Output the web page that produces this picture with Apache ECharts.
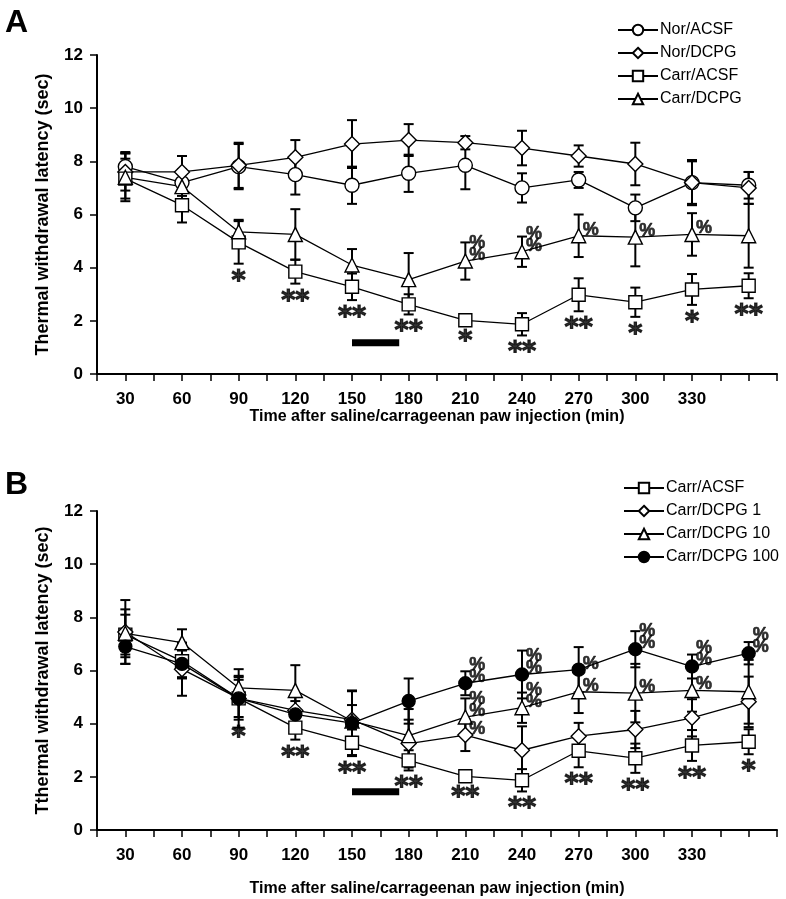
<!DOCTYPE html>
<html>
<head>
<meta charset="utf-8">
<title>Thermal withdrawal latency</title>
<script src="https://cdn.jsdelivr.net/npm/echarts@6/dist/echarts.min.js"></script>
<style>
  html, body { margin: 0; padding: 0; background: #fff; }
  #chart { width: 786px; height: 899px; }
</style>
</head>
<body>
<div id="chart"></div>
<script>
// time points (min)
const times = [30, 60, 90, 120, 150, 180, 210, 240, 270, 300, 330, 360];

// panel A
const norAcsf = [7.8, 7.2, 7.8, 7.5, 7.1, 7.55, 7.85, 7.0, 7.3, 6.25, 7.2, 7.1];
const norAcsfErr = [0.55, 0.5, 0.85, 0.75, 0.7, 0.7, 0.9, 0.55, 0.3, 0.5, 0.85, 0.5];
const norDcpg = [7.6, 7.6, 7.85, 8.15, 8.65, 8.8, 8.7, 8.5, 8.2, 7.9, 7.2, 7.0];
const norDcpgErr = [0.7, 0.6, 0.85, 0.65, 0.9, 0.6, 0.25, 0.65, 0.4, 0.8, 0.8, 0.6];
const carrAcsf = [7.35, 6.35, 4.95, 3.85, 3.28, 2.62, 2.02, 1.87, 2.98, 2.7, 3.18, 3.32];
const carrAcsfErr = [0.75, 0.65, 0.8, 0.45, 0.5, 0.38, 0.12, 0.42, 0.62, 0.55, 0.58, 0.47];
const carrDcpg = [7.4, 7.05, 5.35, 5.25, 4.1, 3.55, 4.25, 4.6, 5.2, 5.15, 5.25, 5.2];
const carrDcpgErr = [0.9, 0.5, 0.45, 0.95, 0.6, 1.0, 0.7, 0.57, 0.8, 1.1, 0.8, 1.2];

// panel B (Carr/ACSF and Carr/DCPG 10 are the same groups as in A)
const carrDcpg1 = [7.45, 6.05, 4.95, 4.5, 4.15, 3.25, 3.57, 3.0, 3.53, 3.78, 4.22, 4.82];
const carrDcpg1Err = [1.2, 1.0, 1.1, 0.5, 1.1, 0.9, 0.6, 0.9, 0.5, 0.7, 0.7, 0.95];
const carrDcpg100 = [6.9, 6.25, 4.95, 4.35, 4.02, 4.85, 5.52, 5.85, 6.03, 6.8, 6.15, 6.65];
const carrDcpg100Err = [0.65, 0.5, 0.7, 0.5, 1.2, 0.85, 0.45, 0.9, 0.85, 0.68, 0.45, 0.42];

// significance marks
const starsA = ['', '', '*', '**', '**', '**', '*', '**', '**', '*', '*', '**'];
const starsB = ['', '', '*', '**', '**', '**', '**', '**', '**', '**', '**', '*'];
const pctDcpg10 = ['', '', '', '', '', '', '%%', '%%', '%', '%', '%', ''];
const pctDcpg1 = ['', '', '', '', '', '', '%', '', '', '', '', ''];
const pctDcpg100 = ['', '', '', '', '', '', '%%', '%%', '%', '%%', '%%', '%%'];

// drug infusion bar (min) and its height on the y scale
const barTimes = [150, 175];
const barLevelA = 1.18;
const barLevelB = 1.44;

const tickLabels = [30, 60, 90, 120, 150, 180, 210, 240, 270, 300, 330];

const FONT = 'Liberation Sans, Arial, sans-serif';

const pts = vals => times.map((t, i) => [t, vals[i]]);

const lineSeries = (name, vals, symbol, size, fill, idx) => ({
  name: name,
  type: 'line',
  xAxisIndex: idx,
  yAxisIndex: idx,
  data: pts(vals),
  symbol: symbol,
  symbolSize: size,
  showAllSymbol: true,
  lineStyle: { color: '#000', width: 1.3 },
  itemStyle: { color: fill, borderColor: '#000', borderWidth: 1.4 },
  z: 3
});

const errorSeries = (vals, errs, idx) => ({
  type: 'custom',
  xAxisIndex: idx,
  yAxisIndex: idx,
  data: times.map((t, i) => [t, vals[i] - errs[i], vals[i] + errs[i]]),
  encode: { x: 0, y: [1, 2] },
  z: 2,
  silent: true,
  renderItem: (params, api) => {
    const top = api.coord([api.value(0), api.value(2)]);
    const bot = api.coord([api.value(0), api.value(1)]);
    const w = 5;
    const st = { stroke: '#000', lineWidth: 2 };
    return {
      type: 'group',
      children: [
        { type: 'line', shape: { x1: top[0], y1: top[1], x2: bot[0], y2: bot[1] }, style: st },
        { type: 'line', shape: { x1: top[0] - w, y1: top[1], x2: top[0] + w, y2: top[1] }, style: st },
        { type: 'line', shape: { x1: bot[0] - w, y1: bot[1], x2: bot[0] + w, y2: bot[1] }, style: st }
      ]
    };
  }
});

const starSeries = (vals, errs, marks, idx) => ({
  type: 'scatter',
  xAxisIndex: idx,
  yAxisIndex: idx,
  silent: true,
  symbolSize: 1,
  itemStyle: { color: 'rgba(0,0,0,0)' },
  data: times.map((t, i) => [t, vals[i] - errs[i], marks[i]]).filter(d => d[2]),
  label: {
    show: true,
    position: 'bottom',
    distance: 4,
    formatter: p => p.data[2],
    fontFamily: 'DejaVu Sans, sans-serif',
    fontWeight: 'bold',
    fontSize: 27,
    color: '#000',
    textBorderColor: '#000',
    textBorderWidth: 1.2
  },
  z: 4
});

const pctSeries = (vals, marks, idx) => ({
  type: 'scatter',
  xAxisIndex: idx,
  yAxisIndex: idx,
  silent: true,
  symbolSize: 2,
  itemStyle: { color: 'rgba(0,0,0,0)' },
  data: times.map((t, i) => [t, vals[i], marks[i]]).filter(d => d[2]),
  label: {
    show: true,
    position: [5, 1],
    align: 'left',
    verticalAlign: 'bottom',
    lineHeight: 12,
    formatter: p => p.data[2].split('').join('\n'),
    fontFamily: FONT,
    fontWeight: 'bold',
    fontSize: 18,
    color: '#000',
    textBorderColor: '#000',
    textBorderWidth: 0.6
  },
  z: 4
});

const barSeries = (level, idx) => ({
  type: 'line',
  xAxisIndex: idx,
  yAxisIndex: idx,
  data: barTimes.map(t => [t, level]),
  symbol: 'none',
  silent: true,
  lineStyle: { color: '#000', width: 7, cap: 'butt' },
  z: 2
});

const xAxisFor = (gridIndex, nameGap) => ({
  gridIndex: gridIndex,
  type: 'value',
  min: 15,
  max: 375,
  interval: 15,
  name: 'Time after saline/carrageenan paw injection (min)',
  nameLocation: 'middle',
  nameGap: nameGap,
  nameTextStyle: { fontFamily: FONT, fontWeight: 'bold', fontSize: 16, color: '#000' },
  axisLine: { lineStyle: { color: '#000', width: 2 } },
  axisTick: { show: true, length: 7, lineStyle: { color: '#000', width: 1.5 } },
  axisLabel: {
    margin: 17,
    fontFamily: FONT,
    fontWeight: 'bold',
    fontSize: 17,
    color: '#000',
    formatter: v => (tickLabels.indexOf(v) >= 0 ? String(v) : '')
  },
  splitLine: { show: false }
});

const yAxisFor = (gridIndex, name) => ({
  gridIndex: gridIndex,
  type: 'value',
  min: 0,
  max: 12,
  interval: 2,
  name: name,
  nameLocation: 'middle',
  nameGap: 45,
  nameTextStyle: { fontFamily: FONT, fontWeight: 'bold', fontSize: 18, color: '#000' },
  axisLine: { show: true, lineStyle: { color: '#000', width: 2 } },
  axisTick: { show: true, length: 7, lineStyle: { color: '#000', width: 1.5 } },
  axisLabel: { margin: 14, fontFamily: FONT, fontWeight: 'bold', fontSize: 17, color: '#000' },
  splitLine: { show: false }
});

const legendFor = (names, top, left) => ({
  orient: 'vertical',
  top: top,
  left: left,
  data: names,
  itemWidth: 40,
  itemHeight: 13,
  itemGap: 7,
  selectedMode: false,
  textStyle: { fontFamily: FONT, fontSize: 16, color: '#000', padding: [0, 0, 0, -3] }
});

const chart = echarts.init(document.getElementById('chart'));
chart.setOption({
  backgroundColor: '#fff',
  animation: false,
  title: [
    { text: 'A', left: 0, top: 2, textStyle: { fontFamily: FONT, fontWeight: 'bold', fontSize: 32, color: '#000' } },
    { text: 'B', left: 0, top: 464, textStyle: { fontFamily: FONT, fontWeight: 'bold', fontSize: 32, color: '#000' } }
  ],
  legend: [
    legendFor(['Nor/ACSF', 'Nor/DCPG', 'Carr/ACSF', 'Carr/DCPG'], 17, 612),
    legendFor(['Carr/ACSF ', 'Carr/DCPG 1', 'Carr/DCPG 10', 'Carr/DCPG 100'], 475, 618)
  ],
  grid: [
    { left: 97, right: 9, top: 55, bottom: 525 },
    { left: 97, right: 9, top: 511, bottom: 69 }
  ],
  xAxis: [xAxisFor(0, 34), xAxisFor(1, 51)],
  yAxis: [
    yAxisFor(0, 'Thermal withdrawal latency (sec)'),
    yAxisFor(1, 'Tthermal withdrawal latency (sec)')
  ],
  series: [
    // panel A
    errorSeries(norAcsf, norAcsfErr, 0),
    errorSeries(norDcpg, norDcpgErr, 0),
    errorSeries(carrAcsf, carrAcsfErr, 0),
    errorSeries(carrDcpg, carrDcpgErr, 0),
    lineSeries('Nor/ACSF', norAcsf, 'circle', 14, '#fff', 0),
    lineSeries('Nor/DCPG', norDcpg, 'diamond', 15, '#fff', 0),
    lineSeries('Carr/ACSF', carrAcsf, 'rect', 13, '#fff', 0),
    lineSeries('Carr/DCPG', carrDcpg, 'triangle', 14, '#fff', 0),
    starSeries(carrAcsf, carrAcsfErr, starsA, 0),
    pctSeries(carrDcpg, pctDcpg10, 0),
    barSeries(barLevelA, 0),
    // panel B
    errorSeries(carrAcsf, carrAcsfErr, 1),
    errorSeries(carrDcpg1, carrDcpg1Err, 1),
    errorSeries(carrDcpg, carrDcpgErr, 1),
    errorSeries(carrDcpg100, carrDcpg100Err, 1),
    lineSeries('Carr/ACSF ', carrAcsf, 'rect', 13, '#fff', 1),
    lineSeries('Carr/DCPG 1', carrDcpg1, 'diamond', 15, '#fff', 1),
    lineSeries('Carr/DCPG 10', carrDcpg, 'triangle', 14, '#fff', 1),
    lineSeries('Carr/DCPG 100', carrDcpg100, 'circle', 13, '#000', 1),
    starSeries(carrAcsf, carrAcsfErr, starsB, 1),
    pctSeries(carrDcpg, pctDcpg10, 1),
    pctSeries(carrDcpg1, pctDcpg1, 1),
    pctSeries(carrDcpg100, pctDcpg100, 1),
    barSeries(barLevelB, 1)
  ]
});
</script>
</body>
</html>
